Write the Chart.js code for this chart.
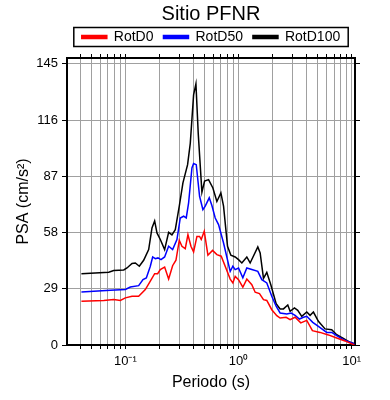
<!DOCTYPE html>
<html>
<head>
<meta charset="utf-8">
<title>Sitio PFNR</title>
<script src="https://cdn.jsdelivr.net/npm/chart.js@4"></script>
<style>
  body { margin: 0; background: #fff; }
  #wrap { width: 390px; height: 400px; }
</style>
</head>
<body>
<div id="wrap"><canvas id="psa-chart"></canvas></div>
<script>
// spectra: period (s) and PSA (cm/s2)
const periodD0 = [0.0409,0.0644,0.0789,0.0903,0.1,0.1145,0.1311,0.1501,0.1662,0.1815,0.1929,0.2036,0.2224,0.2412,0.2616,0.28,0.2996,0.3162,0.3383,0.3573,0.3798,0.4009,0.429,0.4528,0.4684,0.4979,0.5364,0.5896,0.6439,0.7033,0.773,0.8444,0.8913,0.9346,1.0,1.092,1.184,1.311,1.403,1.532,1.662,1.778,1.968,2.179,2.331,2.635,2.857,3.162,3.548,4.009,4.498,5.256,6.224,7.374,8.737,10.56];
const rotD0 = [22.5,23.0,23.4,23.0,24.3,25.1,25.1,28.6,32.9,36.8,36.8,38.9,40.2,34.0,40.9,43.7,54.0,50.9,49.7,56.9,50.9,48.0,56.0,56.0,54.4,58.7,46.3,48.8,46.6,45.8,39.7,34.0,32.0,35.4,33.7,29.8,34.0,31.1,27.2,26.5,23.4,23.0,18.2,15.1,13.9,14.3,13.1,14.3,11.4,12.7,7.4,6.5,5.2,3.6,2.1,0.0];

const periodD50 = [0.0409,0.0737,0.1,0.1107,0.1311,0.1432,0.1532,0.1662,0.1743,0.1839,0.1942,0.2064,0.2224,0.2412,0.2616,0.2857,0.3057,0.3271,0.3452,0.3622,0.3876,0.4009,0.4232,0.4528,0.4846,0.5081,0.5512,0.5817,0.6224,0.6661,0.7374,0.8444,0.8913,0.9346,1.0,1.092,1.184,1.311,1.481,1.607,1.778,1.968,2.15,2.331,2.671,2.916,3.162,3.453,3.747,4.009,4.529,5.081,6.017,6.661,7.374,8.444,9.667,10.56];
const rotD50 = [27.3,28.2,28.6,29.9,30.6,33.7,34.6,40.6,45.4,44.5,44.9,44.0,45.4,50.9,49.2,54.4,65.5,66.4,65.5,73.3,91.3,93.6,93.0,76.7,69.8,71.6,75.9,71.9,65.5,62.1,52.6,38.0,40.6,38.9,39.7,34.6,39.7,38.9,38.0,33.7,32.0,25.1,20.0,16.5,16.0,16.5,15.3,13.4,14.3,14.8,11.7,9.6,6.5,6.5,4.8,2.8,1.4,0.5];

const periodD100 = [0.0409,0.0713,0.0789,0.0967,0.1034,0.1145,0.1225,0.1329,0.1451,0.1607,0.1719,0.1815,0.1903,0.2036,0.2224,0.2412,0.258,0.2762,0.2996,0.3227,0.3548,0.3747,0.4009,0.4204,0.4407,0.4748,0.5012,0.5437,0.5936,0.6439,0.6985,0.7374,0.7997,0.8559,0.9346,1.0,1.07,1.184,1.267,1.481,1.553,1.662,1.778,1.929,2.15,2.331,2.496,2.725,2.857,3.121,3.338,3.621,4.009,4.29,4.591,5.081,5.817,6.661,7.374,8.444,9.667,10.56];
const rotD100 = [36.8,37.5,38.4,38.7,39.7,42.0,42.3,40.6,43.7,49.2,60.4,64.0,57.8,54.4,49.2,58.1,56.8,59.5,71.6,83.6,93.0,104,129,134.7,109,78.8,84.5,85.3,81.0,74.0,78.4,71.6,50.9,46.3,45.4,44.0,42.3,45.4,42.3,50.6,47.5,34.4,37.5,31.1,21.3,18.6,18.6,20.6,17.4,19.1,17.9,14.8,17.0,15.3,17.0,12.2,8.3,7.9,5.3,3.4,1.4,0.7];

const seriesNames = ['RotD0', 'RotD50', 'RotD100'];
const yTicks = [0, 29, 58, 87, 116, 145];
const xGridTicks = [0.04,0.05,0.06,0.07,0.08,0.09,0.1,0.2,0.3,0.4,0.5,0.6,0.7,0.8,0.9,1,2,3,4,5,6,7,8,9,10];
const xLabelTicks = [0.1, 1, 10];
const xLabelText = ['10\u207B\u00B9', '10\u2070', '10\u00B9'];

const toPoints = (xs, ys) => xs.map((x, i) => ({x: x, y: ys[i]}));

Chart.defaults.font.family = '"Liberation Sans", Arial, sans-serif';
Chart.defaults.color = '#000';

// box drawn round the legend
const legendFrame = {
  id: 'legendFrame',
  afterDraw(chart) {
    const boxes = chart.legend && chart.legend.legendHitBoxes;
    if (!boxes || !boxes.length) return;
    const first = boxes[0];
    const last = boxes[boxes.length - 1];
    const mid = first.top + first.height / 2;
    const ctx = chart.ctx;
    ctx.save();
    ctx.strokeStyle = '#000';
    ctx.lineWidth = 1.5;
    ctx.strokeRect(first.left - 8, mid - 9.5, last.left + last.width - first.left + 16, 19);
    ctx.restore();
  }
};

function lineSet(label, xs, ys, color) {
  return {
    label: label,
    data: toPoints(xs, ys),
    borderColor: color,
    backgroundColor: color,
    borderWidth: 1.5,
    pointRadius: 0,
    tension: 0
  };
}

const setXTicks = scale => { scale.ticks = xGridTicks.map(v => ({value: v})); };
const setYTicks = scale => { scale.ticks = yTicks.map(v => ({value: v})); };

new Chart(document.getElementById('psa-chart'), {
  type: 'line',
  data: {
    datasets: [
      lineSet(seriesNames[0], periodD0, rotD0, '#ff0000'),
      lineSet(seriesNames[1], periodD50, rotD50, '#0000ff'),
      lineSet(seriesNames[2], periodD100, rotD100, '#000000')
    ]
  },
  options: {
    responsive: true,
    maintainAspectRatio: false,
    animation: false,
    layout: { padding: 0 },
    plugins: {
      title: {
        display: true,
        text: 'Sitio PFNR',
        fullSize: false,
        font: { size: 20, weight: 'normal' },
        padding: { top: 2, bottom: -6 }
      },
      legend: {
        fullSize: false,
        labels: {
          boxWidth: 25,
          boxHeight: 3,
          padding: 10,
          font: { size: 14 }
        }
      },
      tooltip: { enabled: false }
    },
    scales: {
      x: {
        type: 'logarithmic',
        position: 'bottom',
        min: 0.0305,
        max: 10.7,
        afterBuildTicks: setXTicks,
        afterFit: s => { s.height = 55; },
        grid: { color: '#a0a0a0', lineWidth: 1, tickColor: '#000', tickLength: 4 },
        border: { color: '#000', width: 2 },
        ticks: {
          autoSkip: false,
          maxRotation: 0,
          padding: 5,
          font: { size: 13 },
          callback: v => {
            const i = xLabelTicks.findIndex(t => Math.abs(Math.log10(t) - Math.log10(v)) < 1e-6);
            return i >= 0 ? xLabelText[i] : '';
          }
        },
        title: { display: true, text: 'Periodo (s)', font: { size: 16 }, padding: { top: 0, bottom: 8 } }
      },
      x2: {
        type: 'logarithmic',
        position: 'top',
        min: 0.0305,
        max: 10.7,
        afterBuildTicks: setXTicks,
        afterFit: s => { s.height = 4; },
        grid: { drawOnChartArea: false, tickColor: '#000', tickLength: 4 },
        border: { color: '#000', width: 2 },
        ticks: { display: false }
      },
      y: {
        position: 'left',
        min: 0,
        max: 148,
        afterBuildTicks: setYTicks,
        afterFit: s => { s.width = 67; },
        grid: { color: '#a0a0a0', lineWidth: 1, tickColor: '#000', tickLength: 5 },
        border: { color: '#000', width: 2 },
        ticks: { padding: 4, font: { size: 13 } },
        title: { display: true, text: 'PSA (cm/s\u00B2)', font: { size: 16 }, padding: { top: 14, bottom: 0 } }
      },
      y2: {
        position: 'right',
        min: 0,
        max: 148,
        afterBuildTicks: setYTicks,
        afterFit: s => { s.width = 35; },
        grid: { drawOnChartArea: false, tickColor: '#000', tickLength: 5 },
        border: { color: '#000', width: 2 },
        ticks: { display: false }
      }
    }
  },
  plugins: [legendFrame]
});
</script>
</body>
</html>
